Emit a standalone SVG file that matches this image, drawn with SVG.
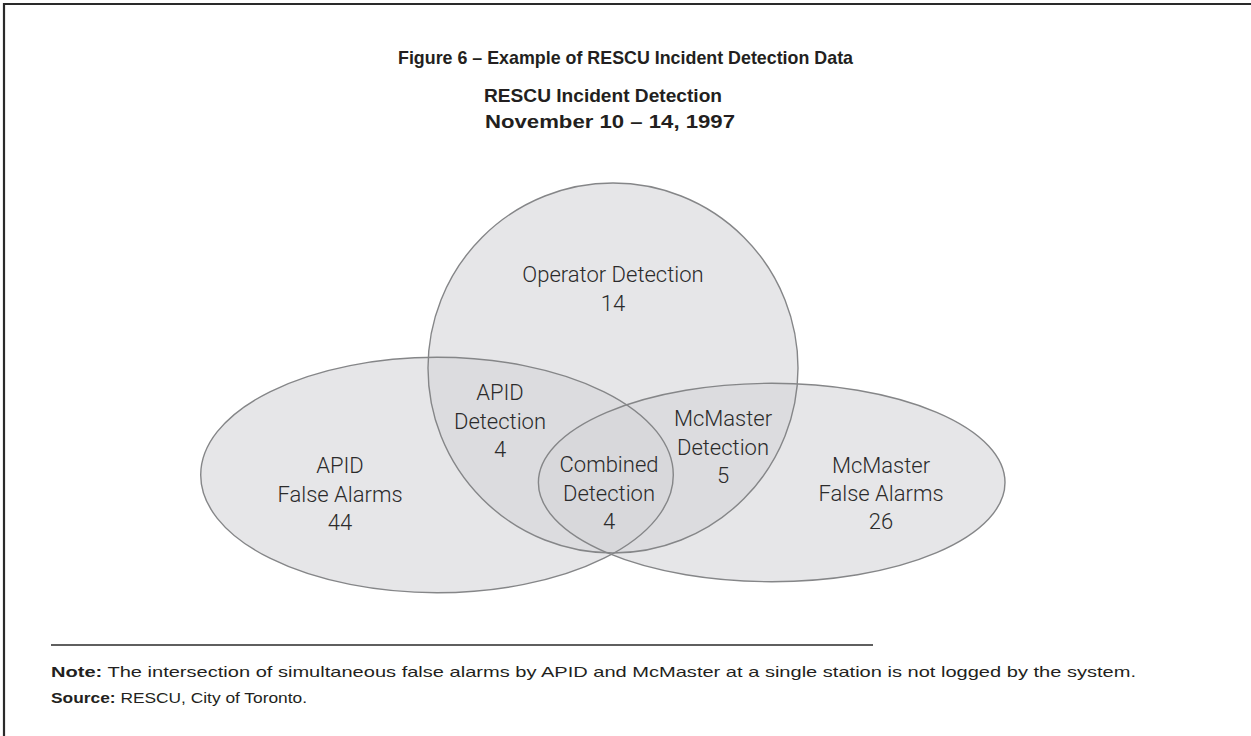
<svg xmlns="http://www.w3.org/2000/svg" xmlns:xlink="http://www.w3.org/1999/xlink" width="1251" height="736" viewBox="0 0 1251 736">
  <style>
    .title { font-family: "Liberation Sans", Arial, sans-serif; font-weight: bold; fill: #231f20; text-anchor: middle; }
    .lbl { font-family: Roboto, "Liberation Sans", sans-serif; font-weight: 300; font-size: 22px; fill: #2b2b2b; text-anchor: middle; }
    .foot { font-family: "Liberation Sans", Arial, sans-serif; font-size: 15px; fill: #231f20; }
    .foot .b { font-weight: bold; }
    .area { fill: #d5d6d8; fill-opacity: 0.6; stroke: none; }
    .edge { fill: none; stroke: #858688; stroke-width: 1.4; }
  </style>
  <defs>
    <circle id="shape-operator" cx="613" cy="368" r="185"/>
    <ellipse id="shape-apid" cx="437" cy="475" rx="236.3" ry="117.7"/>
    <ellipse id="shape-mcmaster" cx="771.7" cy="482.5" rx="233.3" ry="99.2"/>
  </defs>

  <rect width="1251" height="736" fill="#ffffff"/>
  <!-- page frame: top and left rules only -->
  <path d="M4,736 V4 H1251" fill="none" stroke="#2a2a2a" stroke-width="2.2"/>

  <!-- headings -->
  <g id="heading">
    <text class="title" x="625.5" y="63.5" font-size="18.5" textLength="455" lengthAdjust="spacingAndGlyphs">Figure 6 – Example of RESCU Incident Detection Data</text>
    <text class="title" x="603" y="101.5" font-size="19" textLength="238" lengthAdjust="spacingAndGlyphs">RESCU Incident Detection</text>
    <text class="title" x="610" y="128" font-size="19" textLength="250" lengthAdjust="spacingAndGlyphs">November 10 – 14, 1997</text>
  </g>

  <!-- set shapes: translucent fills first, outlines on top -->
  <g id="set-fills">
    <use xlink:href="#shape-apid" class="area"/>
    <use xlink:href="#shape-mcmaster" class="area"/>
    <use xlink:href="#shape-operator" class="area"/>
  </g>
  <g id="set-outlines">
    <use xlink:href="#shape-apid" class="edge"/>
    <use xlink:href="#shape-mcmaster" class="edge"/>
    <use xlink:href="#shape-operator" class="edge"/>
  </g>

  <!-- region labels -->
  <g id="operator-detection">
    <text class="lbl" x="613" y="282">Operator Detection</text>
    <text class="lbl" x="613" y="311">14</text>
  </g>
  <g id="apid-detection">
    <text class="lbl" x="500" y="400">APID</text>
    <text class="lbl" x="500" y="429">Detection</text>
    <text class="lbl" x="500" y="457">4</text>
  </g>
  <g id="apid-false-alarms">
    <text class="lbl" x="340" y="473">APID</text>
    <text class="lbl" x="340" y="502">False Alarms</text>
    <text class="lbl" x="340" y="530">44</text>
  </g>
  <g id="combined-detection">
    <text class="lbl" x="609" y="472">Combined</text>
    <text class="lbl" x="609" y="501">Detection</text>
    <text class="lbl" x="609" y="529">4</text>
  </g>
  <g id="mcmaster-detection">
    <text class="lbl" x="723" y="426">McMaster</text>
    <text class="lbl" x="723" y="455">Detection</text>
    <text class="lbl" x="723" y="483">5</text>
  </g>
  <g id="mcmaster-false-alarms">
    <text class="lbl" x="881" y="473">McMaster</text>
    <text class="lbl" x="881" y="501">False Alarms</text>
    <text class="lbl" x="881" y="529">26</text>
  </g>

  <!-- footnotes -->
  <g id="footnotes">
    <line x1="51" y1="645" x2="873" y2="645" stroke="#2a2a2a" stroke-width="1.3"/>
    <text class="foot" x="51" y="677" textLength="1085" lengthAdjust="spacingAndGlyphs"><tspan class="b">Note:</tspan> The intersection of simultaneous false alarms by APID and McMaster at a single station is not logged by the system.</text>
    <text class="foot" x="51" y="703" textLength="256" lengthAdjust="spacingAndGlyphs"><tspan class="b">Source:</tspan> RESCU, City of Toronto.</text>
  </g>
</svg>
